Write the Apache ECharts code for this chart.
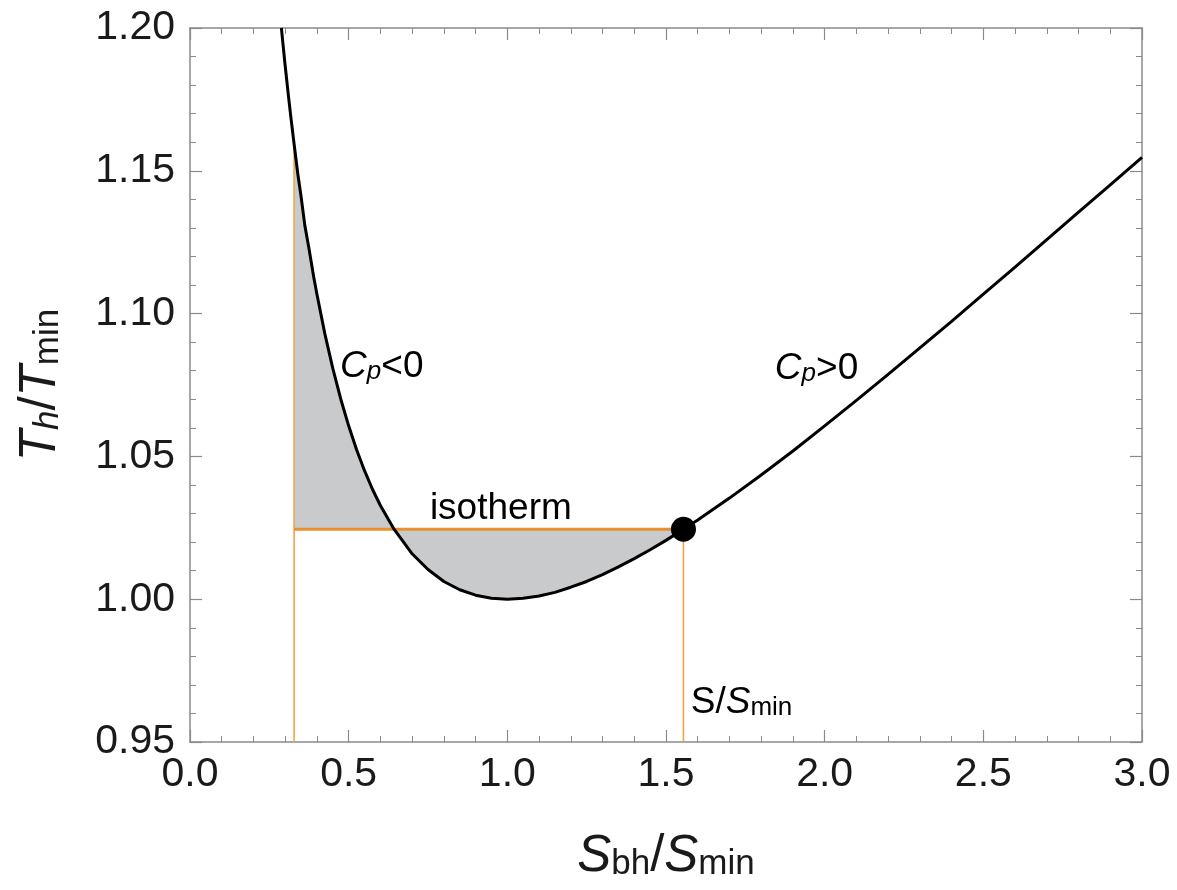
<!DOCTYPE html>
<html>
<head>
<meta charset="UTF-8">
<title>T_h/T_min vs S_bh/S_min</title>
<script type="text/javascript" src="https://cdn.jsdelivr.net/npm/echarts@6/dist/echarts.min.js"></script>
<style type="text/css">
	html, body { margin: 0; padding: 0; background: #ffffff; }
	#main { width: 1177px; height: 890px; }
</style>
</head>
<body>
<div id="main"></div>
<script type="text/javascript">
	// curve: S_bh/S_min -> T_h/T_min
	var curveS = [0.288, 0.295, 0.30, 0.31, 0.318, 0.328, 0.34, 0.35, 0.362, 0.375, 0.39, 0.40, 0.425, 0.45, 0.475, 0.50, 0.525, 0.55, 0.575, 0.60, 0.643,
		0.70, 0.75, 0.80, 0.85, 0.90, 0.95, 1.00, 1.05, 1.10, 1.15, 1.20, 1.25, 1.30, 1.35, 1.40, 1.45, 1.50,
		1.555, 1.60, 1.70, 1.80, 1.90, 2.00, 2.10, 2.20, 2.30, 2.40, 2.50, 2.60, 2.70, 2.80, 2.90, 3.00];
	var curveT = [1.2000, 1.1922, 1.1867, 1.1764, 1.1686, 1.1594, 1.1487, 1.1410, 1.1308, 1.1227, 1.1127, 1.1068, 1.0929, 1.0808, 1.0701, 1.0607, 1.0523, 1.0450, 1.0385, 1.0328, 1.0245,
		1.0159, 1.0104, 1.0062, 1.0033, 1.0014, 1.0003, 1.0000, 1.0003, 1.0011, 1.0024, 1.0042, 1.0062, 1.0086, 1.0113, 1.0142, 1.0173, 1.0206,
		1.0245, 1.0277, 1.0354, 1.0435, 1.0519, 1.0607, 1.0696, 1.0787, 1.0880, 1.0973, 1.1068, 1.1163, 1.1259, 1.1355, 1.1451, 1.1547];

	// isotherm and the two vertical markers
	var isoT = 1.0245;
	var leftS = 0.328;
	var leftTopT = 1.1594;
	var rightS = 1.555;

	// axes
	var xMin = 0, xMax = 3.0, xStep = 0.5;
	var yMin = 0.95, yMax = 1.20, yStep = 0.05;

	// text labels in data coordinates
	var notes = [
		{ s: 0.473, t: 1.0827, text: '{it|C}{subi|p}{n|<0}' },
		{ s: 1.843, t: 1.0820, text: '{it|C}{subi|p}{n|>0}' },
		{ s: 0.756, t: 1.0330, text: '{n|isotherm}' },
		{ s: 1.578, t: 0.9650, text: '{n|S/}{it|S}{sub|min}' }
	];

	var curveData = [];
	for (var i = 0; i < curveS.length; i++) {
		curveData.push([curveS[i], curveT[i]]);
	}
	var fillData = [];
	for (var i = 0; i < curveS.length; i++) {
		if (curveS[i] >= leftS && curveS[i] <= rightS) fillData.push([curveS[i], curveT[i]]);
	}
	fillData.push([rightS, isoT]);
	fillData.push([leftS, isoT]);

	var frameColor = '#8a8a8a';
	var textColor = '#1a1a1a';
	var fontName = '"Liberation Sans", Arial, sans-serif';

	var noteRich = {
		it: { fontStyle: 'italic', fontSize: 37, fontFamily: fontName, color: textColor, verticalAlign: 'bottom', lineHeight: 44 },
		subi: { fontSize: 26, fontStyle: 'italic', fontFamily: fontName, color: textColor, verticalAlign: 'bottom', lineHeight: 44 },
		sub: { fontSize: 26, fontFamily: fontName, color: textColor, verticalAlign: 'bottom', lineHeight: 44 },
		n: { fontSize: 37, fontFamily: fontName, color: textColor, verticalAlign: 'bottom', lineHeight: 44 }
	};

	function baseAxis(pos, labels) {
		return {
			type: 'value',
			position: pos,
			axisLine: { show: true, onZero: false, lineStyle: { color: frameColor, width: 1.5 } },
			axisTick: { show: true, inside: true, length: 12, lineStyle: { color: frameColor, width: 1.2 } },
			minorTick: { show: true, splitNumber: 5, length: 6, lineStyle: { color: frameColor, width: 1 } },
			splitLine: { show: false },
			minorSplitLine: { show: false },
			axisLabel: { show: labels }
		};
	}

	var xBottom = baseAxis('bottom', true);
	xBottom.min = xMin; xBottom.max = xMax; xBottom.interval = xStep;
	xBottom.axisLabel = { show: true, fontSize: 41, fontFamily: fontName, color: textColor, margin: 12,
		formatter: function (v) { return v.toFixed(1); } };
	xBottom.name = '{it|S}{sub|bh}{n|/}{it|S}{sub|min}';
	xBottom.nameLocation = 'middle';
	xBottom.nameGap = 82;
	xBottom.nameTextStyle = {
		rich: {
			it: { fontStyle: 'italic', fontSize: 51, fontFamily: fontName, color: textColor, verticalAlign: 'bottom', lineHeight: 58 },
			sub: { fontSize: 35, fontFamily: fontName, color: textColor, verticalAlign: 'bottom', lineHeight: 58 },
			n: { fontSize: 51, fontFamily: fontName, color: textColor, verticalAlign: 'bottom', lineHeight: 58 }
		}
	};

	var xTop = baseAxis('top', false);
	xTop.min = xMin; xTop.max = xMax; xTop.interval = xStep;

	var yLeft = baseAxis('left', true);
	yLeft.min = yMin; yLeft.max = yMax; yLeft.interval = yStep;
	yLeft.axisLabel = { show: true, fontSize: 41, fontFamily: fontName, color: textColor, margin: 15,
		formatter: function (v) { return v.toFixed(2); } };
	yLeft.name = '{it|T}{subi|h}{n|/}{it|T}{sub|min}';
	yLeft.nameLocation = 'middle';
	yLeft.nameRotate = 90;
	yLeft.nameGap = 124;
	yLeft.nameTextStyle = {
		rich: {
			it: { fontStyle: 'italic', fontSize: 51, fontFamily: fontName, color: textColor, verticalAlign: 'bottom', lineHeight: 58 },
			subi: { fontStyle: 'italic', fontSize: 35, fontFamily: fontName, color: textColor, verticalAlign: 'bottom', lineHeight: 58 },
			sub: { fontSize: 35, fontFamily: fontName, color: textColor, verticalAlign: 'bottom', lineHeight: 58 },
			n: { fontSize: 51, fontFamily: fontName, color: textColor, verticalAlign: 'bottom', lineHeight: 58 }
		}
	};

	var yRight = baseAxis('right', false);
	yRight.min = yMin; yRight.max = yMax; yRight.interval = yStep;

	var myChart = echarts.init(document.getElementById('main'), null, { renderer: 'canvas' });

	var option = {
		animation: false,
		backgroundColor: '#ffffff',
		grid: { left: 190, right: 35, top: 28, bottom: 148, containLabel: false },
		xAxis: [xBottom, xTop],
		yAxis: [yLeft, yRight],
		series: [
			{
				// grey Maxwell areas (figure-eight polygon between curve and isotherm)
				type: 'custom',
				z: 1,
				clip: true,
				data: [0],
				renderItem: function (params, api) {
					var pts = [];
					for (var k = 0; k < fillData.length; k++) {
						pts.push(api.coord(fillData[k]));
					}
					return { type: 'polygon', shape: { points: pts }, style: { fill: '#c9cacb', stroke: null } };
				}
			},
			{
				type: 'line', z: 2, symbol: 'none', silent: true,
				data: [[leftS, yMin], [leftS, leftTopT]],
				lineStyle: { color: '#f0a446', width: 1.6 }
			},
			{
				type: 'line', z: 2, symbol: 'none', silent: true,
				data: [[rightS, yMin], [rightS, isoT]],
				lineStyle: { color: '#f0a446', width: 1.6 }
			},
			{
				type: 'line', z: 3, symbol: 'none', silent: true,
				data: [[leftS, isoT], [rightS, isoT]],
				lineStyle: { color: '#e98f2c', width: 3.2 }
			},
			{
				type: 'line', z: 4, symbol: 'none', silent: true,
				smooth: false, clip: true,
				data: curveData,
				lineStyle: { color: '#000000', width: 3, join: 'round' }
			},
			{
				type: 'scatter', z: 5, silent: true,
				symbol: 'circle', symbolSize: 25,
				data: [[rightS, isoT]],
				itemStyle: { color: '#000000', opacity: 1 }
			}
		]
	};

	myChart.setOption(option);

	var graphics = [];
	for (var j = 0; j < notes.length; j++) {
		var p = myChart.convertToPixel({ gridIndex: 0 }, [notes[j].s, notes[j].t]);
		graphics.push({
			type: 'text',
			x: p[0],
			y: p[1],
			z: 10,
			style: { text: notes[j].text, rich: noteRich, align: 'left', verticalAlign: 'middle' }
		});
	}
	myChart.setOption({ graphic: graphics });
</script>
</body>
</html>
